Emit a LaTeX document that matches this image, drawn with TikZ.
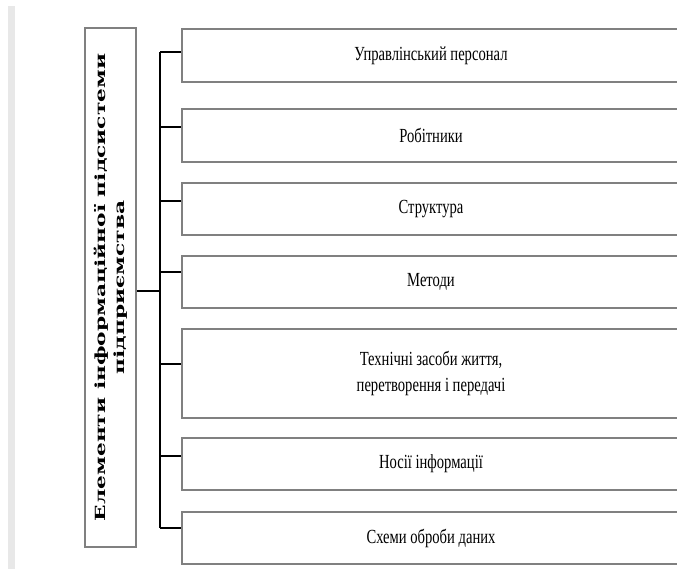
\documentclass[tikz,border=0pt]{standalone}
\usepackage{fontspec}
\setmainfont{Liberation Serif}
\newfontfamily\itemFont[FakeStretch=0.73]{Liberation Serif}
\newfontfamily\headFont[FakeStretch=1.55]{DejaVu Serif}
\usetikzlibrary{positioning}
\definecolor{frameColor}{RGB}{128,128,128}
\definecolor{barColor}{RGB}{232,232,232}
\tikzstyle{itemBox} = [draw=frameColor, line width=2.5pt, fill=white, minimum width=498pt, inner sep=0pt, align=center, font=\itemFont\fontsize{20}{26}\selectfont]
\tikzstyle{headBox} = [draw=frameColor, line width=2.5pt, fill=white, rotate=90, minimum width=519pt, minimum height=51pt, inner sep=0pt, align=center, font=\headFont\bfseries\fontsize{14}{19}\selectfont]
\tikzstyle{branchLine} = [color=black, line width=1.2pt]

\begin{document}
\begin{tikzpicture}[x=1pt, y=-1pt]
  \useasboundingbox (0,0) rectangle (677,569);
  \clip (0,0) rectangle (677,569);
  \fill [barColor] (8,6) rectangle (15,569);

  % left block
  \node [headBox] (head) at (110.5,287.5) {Елементи інформаційної підсистеми\\підприємства};

  % items
  \node [itemBox, minimum height=53pt] (b1) at (431,55.5) {Управлінський персонал};
  \node [itemBox, minimum height=53pt] (b2) at (431,135.5) {Робітники};
  \node [itemBox, minimum height=52pt] (b3) at (431,209) {Структура};
  \node [itemBox, minimum height=52pt] (b4) at (431,282) {Методи};
  \node [itemBox, minimum height=89pt] (b5) at (431,373.5) {Технічні засоби життя,\\перетворення і передачі};
  \node [itemBox, minimum height=52pt] (b6) at (431,464) {Носії інформації};
  \node [itemBox, minimum height=52pt] (b7) at (431,538) {Схеми оброби даних};

  % bracket
  \coordinate (spineTop) at (160,52);
  \coordinate (spineBottom) at (160,528);
  \draw [branchLine] (spineTop) -- (spineBottom);
  \draw [branchLine] ([yshift=-3.5pt]head.south) -- ([yshift=-3.5pt]head.south -| spineTop);
  \draw [branchLine] ([yshift=3.5pt]b1.west) -- (spineTop);
  \foreach \itemName/\shift in {b2/8.5, b3/8, b4/10, b5/9.5, b6/8, b7/10} {
    \draw [branchLine] ([yshift=\shift pt]\itemName.west) -- ([yshift=\shift pt]\itemName.west -| spineTop);
  }
\end{tikzpicture}
\end{document}
